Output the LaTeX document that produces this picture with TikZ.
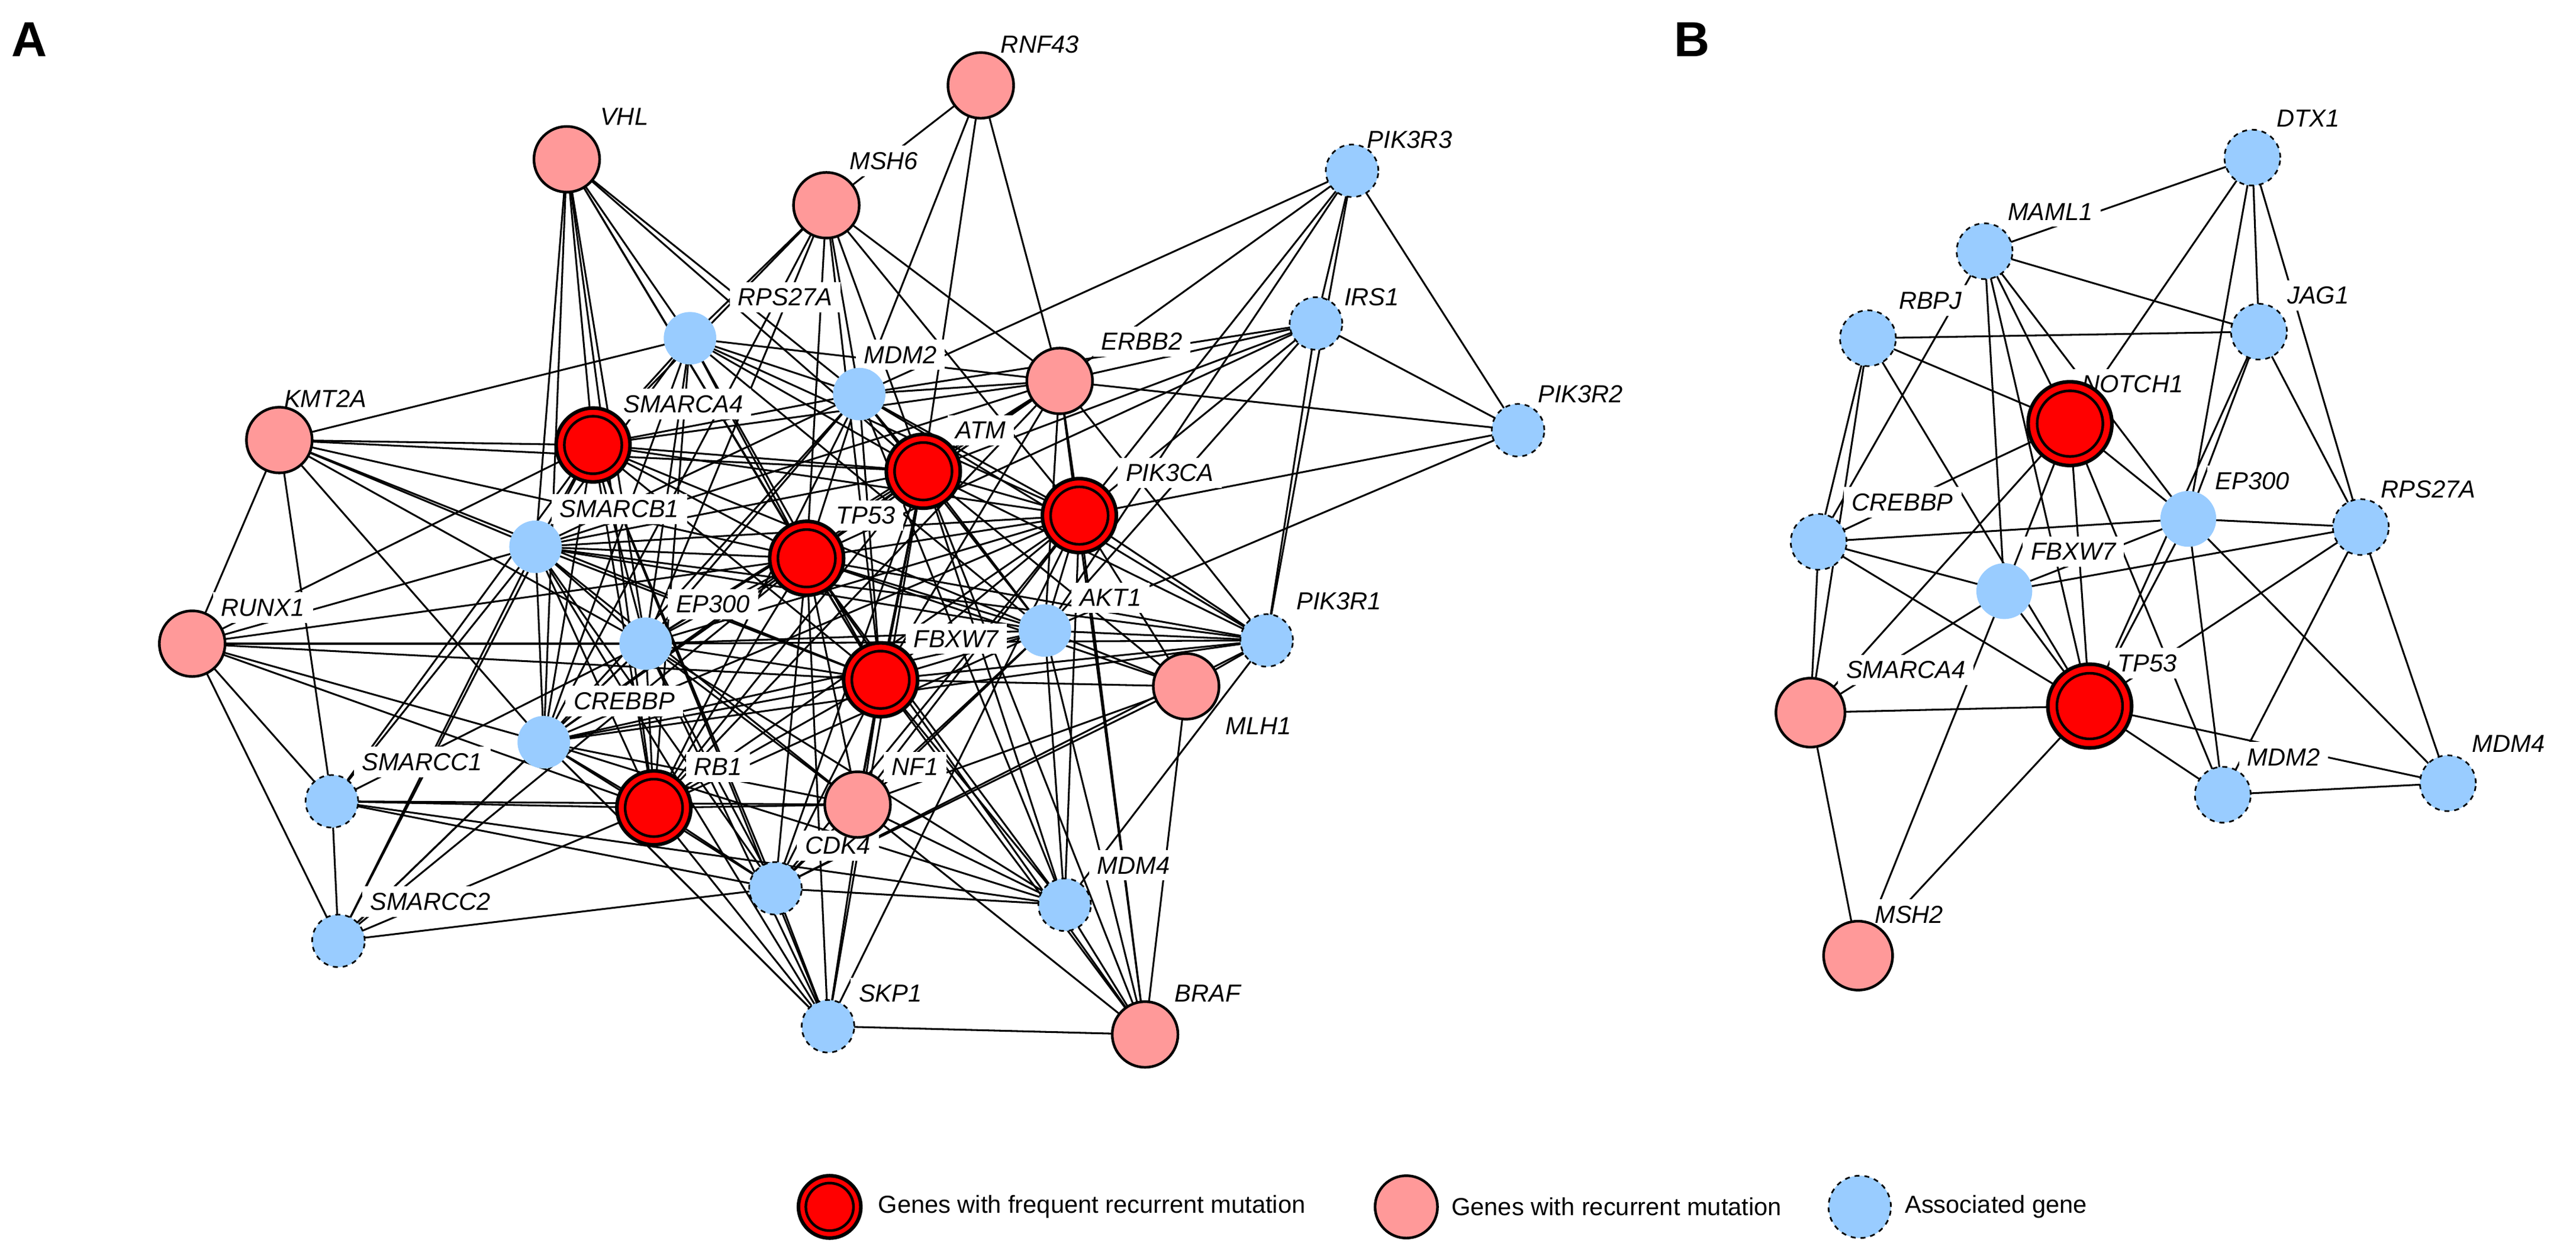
\documentclass[tikz,border=0pt]{standalone}
\usepackage{fontspec}
\setmainfont{Liberation Sans}
\pgfdeclarelayer{edges}
\pgfdeclarelayer{labels}
\pgfsetlayers{edges,labels,main}
\definecolor{redc}{HTML}{FF0000}
\definecolor{pinkc}{HTML}{FF9999}
\definecolor{bluec}{HTML}{99CCFF}
\begin{document}
\begin{tikzpicture}[x=1pt,y=-1pt,
  edge/.style={line width=1.1pt,black},
  lab/.style={fill=white,inner xsep=5pt,inner ysep=4pt,font=\fontsize{15}{17}\selectfont\itshape},
  red/.style={circle,fill=redc,draw=black,line width=2.2pt,minimum size=45pt,inner sep=0pt},
  pink/.style={circle,fill=pinkc,draw=black,line width=1.6pt,minimum size=40pt,inner sep=0pt},
  blue/.style={circle,fill=bluec,minimum size=32pt,inner sep=0pt},
  blued/.style={blue,draw=black,dashed,line width=1pt},
  redB/.style={red,minimum size=51pt},
  pinkB/.style={pink,minimum size=42pt},
  blueB/.style={blue,minimum size=34pt},
  bluedB/.style={blued,minimum size=34pt},
  inner/.style={draw=black,line width=1.6pt}]
\useasboundingbox (0,0) rectangle (1568,763);
\node[font=\fontsize{30}{30}\selectfont\bfseries] (pA) at (18,24) {A};
\node[font=\fontsize{30}{30}\selectfont\bfseries] (pB) at (1030,24) {B};
% ---------- Panel A nodes
\foreach \n/\x/\y/\s in {vhl/345/97/pink, rnf/597/52/pink, msh6/503/125/pink, r3/823/104/blued,
  rps/420/206/blue, mdm2/523/240/blue, erbb2/645/232/pink, irs1/801/197/blued, r2/924/262/blued,
  kmt/170/268/pink, sma4/361/271/red, atm/562/287/red, pik/657/314/red, smb1/326/333/blue,
  tp53/491/340/red, r1/771/390/blued, runx/117/392/pink, ep/393/392/blue, akt/636/384/blue,
  fbx/536/414/red, mlh/722/418/pink, creb/331/452/blue, smc1/202/488/blued, rb1/398/492/red,
  nf1/522/490/pink, cdk4/472/541/blued, mdm4/648/551/blued, smc2/206/573/blued,
  skp1/504/625/blued, braf/697/630/pink}
  \node[\s] (\n) at (\x,\y) {};
\foreach \n in {sma4,atm,pik,tp53,fbx,rb1} \draw[inner] (\n.center) circle (17.5pt);
% labels A
\begin{pgfonlayer}{labels}
\foreach \n/\x/\y/\t in {vhl/380/71/VHL, rnf/633/27/RNF43, msh6/538/98/MSH6, r3/858/85/PIK3R3,
  rps/478/181/RPS27A, mdm2/548/216/MDM2, erbb2/695/208/ERBB2, irs1/835/181/IRS1, r2/962/240/PIK3R2,
  kmt/198/243/KMT2A, sma4/416/246/SMARCA4, atm/597/262/ATM, pik/712/288/PIK3CA, smb1/377/310/SMARCB1,
  tp53/527/314/TP53, r1/815/366/PIK3R1, runx/160/370/RUNX1, ep/434/368/EP300, akt/676/364/AKT1,
  fbx/582/389/FBXW7, mlh/766/442/MLH1, creb/380/427/CREBBP, smc1/257/464/SMARCC1, rb1/437/467/RB1,
  nf1/557/467/NF1, cdk4/510/515/CDK4, mdm4/690/527/MDM4, smc2/262/549/SMARCC2, skp1/542/605/SKP1,
  braf/735/605/BRAF}
  \node[lab] (l\n) at (\x,\y) {\t};
\end{pgfonlayer}
% ---------- Panel B nodes
\foreach \n/\x/\y/\s in {bdtx/1371/96/bluedB, bmaml/1208/153/bluedB, brbpj/1137/206/bluedB,
  bjag/1375/202/bluedB, bnotch/1260/258/redB, brps/1437/321/bluedB, bep/1332/316/blueB,
  bcreb/1107/330/bluedB, bfbx/1220/360/blueB, bsma4/1102/434/pinkB, btp53/1272/430/redB,
  bmdm2/1353/484/bluedB, bmdm4/1490/477/bluedB, bmsh2/1131/582/pinkB}
  \node[\s] (\n) at (\x,\y) {};
\foreach \n in {bnotch,btp53} \draw[inner] (\n.center) circle (20pt);
\begin{pgfonlayer}{labels}
\foreach \n/\x/\y/\t in {bdtx/1405/72/DTX1, bmaml/1248/129/MAML1, brbpj/1175/183/RBPJ,
  bjag/1411/180/JAG1, bnotch/1298/234/NOTCH1, brps/1478/298/RPS27A, bep/1371/293/EP300,
  bcreb/1158/306/CREBBP, bfbx/1262/336/FBXW7, bsma4/1160/408/SMARCA4, btp53/1307/404/TP53,
  bmdm2/1390/461/MDM2, bmdm4/1527/453/MDM4, bmsh2/1162/557/MSH2}
  \node[lab] (l\n) at (\x,\y) {\t};
\end{pgfonlayer}
% ---------- edges
\begin{pgfonlayer}{edges}
% core clique A
\foreach \a [count=\i] in {rps,mdm2,erbb2,sma4,atm,pik,smb1,tp53,ep,akt,fbx,creb,rb1}{
  \foreach \b [count=\j] in {rps,mdm2,erbb2,sma4,atm,pik,smb1,tp53,ep,akt,fbx,creb,rb1}{
    \ifnum\i<\j \draw[edge] (\a.center) -- (\b.center); \fi }}
\foreach \a/\b in {vhl/sma4, vhl/smb1, vhl/rps, vhl/ep, vhl/creb, vhl/tp53, vhl/rb1, vhl/atm, vhl/mdm2, vhl/fbx,
  rnf/msh6, rnf/mdm2, rnf/erbb2, rnf/atm,
  msh6/rps, msh6/tp53, msh6/atm, msh6/mdm2, msh6/erbb2, msh6/pik, msh6/fbx, msh6/sma4, msh6/ep, msh6/creb,
  r3/erbb2, r3/irs1, r3/r2, r3/pik, r3/r1, r3/akt, r3/mdm2,
  irs1/erbb2, irs1/r2, irs1/r1, irs1/pik, irs1/akt, irs1/tp53, irs1/mdm2, irs1/atm,
  r2/erbb2, r2/pik, r2/akt,
  kmt/rps, kmt/sma4, kmt/tp53, kmt/ep, kmt/creb, kmt/smb1, kmt/runx, kmt/smc1, kmt/fbx, kmt/atm,
  runx/smc1, runx/smc2, runx/ep, runx/creb, runx/smb1, runx/tp53, runx/fbx, runx/sma4, runx/rb1,
  smc1/smc2, smc1/rb1, smc1/sma4, smc1/smb1, smc1/nf1, smc1/ep, smc1/cdk4,
  smc2/sma4, smc2/smb1, smc2/cdk4, smc2/ep, smc2/creb, smc2/rb1, smc2/tp53,
  skp1/cdk4, skp1/rb1, skp1/tp53, skp1/fbx, skp1/braf, skp1/creb, skp1/ep, skp1/smb1, skp1/sma4, skp1/atm, skp1/pik,
  braf/mdm4, braf/mlh, braf/akt, braf/pik, braf/nf1, braf/tp53, braf/fbx, braf/atm, braf/erbb2,
  mlh/r1, mlh/tp53, mlh/atm, mlh/fbx, mlh/pik, mlh/akt, mlh/nf1, mlh/cdk4,
  mdm4/tp53, mdm4/mdm2, mdm4/akt, mdm4/fbx, mdm4/atm, mdm4/pik, mdm4/cdk4, mdm4/creb, mdm4/smc1, mdm4/nf1, mdm4/ep,
  cdk4/tp53, cdk4/rb1, cdk4/fbx, cdk4/atm, cdk4/pik, cdk4/akt, cdk4/creb, cdk4/ep, cdk4/smb1, cdk4/sma4, cdk4/nf1,
  r1/pik, r1/akt, r1/atm, r1/erbb2, r1/tp53, r1/fbx, r1/mdm2, r1/ep, r1/smb1, r1/creb, r1/cdk4, r1/mdm4,
  nf1/tp53, nf1/fbx, nf1/atm, nf1/pik, nf1/akt, nf1/rb1, nf1/creb, nf1/ep, nf1/smb1}
  \draw[edge] (\a.center) -- (\b.center);
% panel B
\foreach \a/\b in {bdtx/bmaml, bdtx/bnotch, bdtx/bjag, bdtx/bep, bdtx/brps,
  bmaml/bjag, bmaml/bnotch, bmaml/bfbx, bmaml/bep, bmaml/bcreb, bmaml/btp53,
  brbpj/bjag, brbpj/bnotch, brbpj/bcreb, brbpj/btp53, brbpj/bsma4,
  bcreb/bep, bcreb/bfbx, bcreb/btp53, bcreb/bsma4,
  bnotch/bep, bnotch/btp53, bnotch/bfbx, bnotch/bsma4, bnotch/bcreb, bnotch/bmdm2,
  bep/bjag, bep/brps, bep/btp53, bep/bmdm2, bep/bmdm4, bep/bfbx,
  bfbx/btp53, bfbx/brps, bfbx/bsma4, bjag/brps, bjag/btp53,
  brps/bmdm2, brps/bmdm4, brps/btp53,
  btp53/bmdm2, btp53/bsma4, btp53/bmsh2, btp53/bmdm4, bmdm2/bmdm4,
  bsma4/bmsh2, bmsh2/bfbx}
  \draw[edge] (\a.center) -- (\b.center);
\end{pgfonlayer}
% ---------- legend
\node[red,minimum size=38pt] (lg1) at (505,735) {};
\draw[inner] (lg1.center) circle (14.5pt);
\node[anchor=west,font=\fontsize{15}{17}\selectfont] (lt1) at (531,735) {Genes with frequent recurrent mutation};
\node[pink,minimum size=38pt] (lg2) at (856,735) {};
\node[anchor=west,font=\fontsize{15}{17}\selectfont] (lt2) at (880,735) {Genes with recurrent mutation};
\node[blued,minimum size=38pt] (lg3) at (1132,735) {};
\node[anchor=west,font=\fontsize{15}{17}\selectfont] (lt3) at (1156,735) {Associated gene};
\end{tikzpicture}
\end{document}
